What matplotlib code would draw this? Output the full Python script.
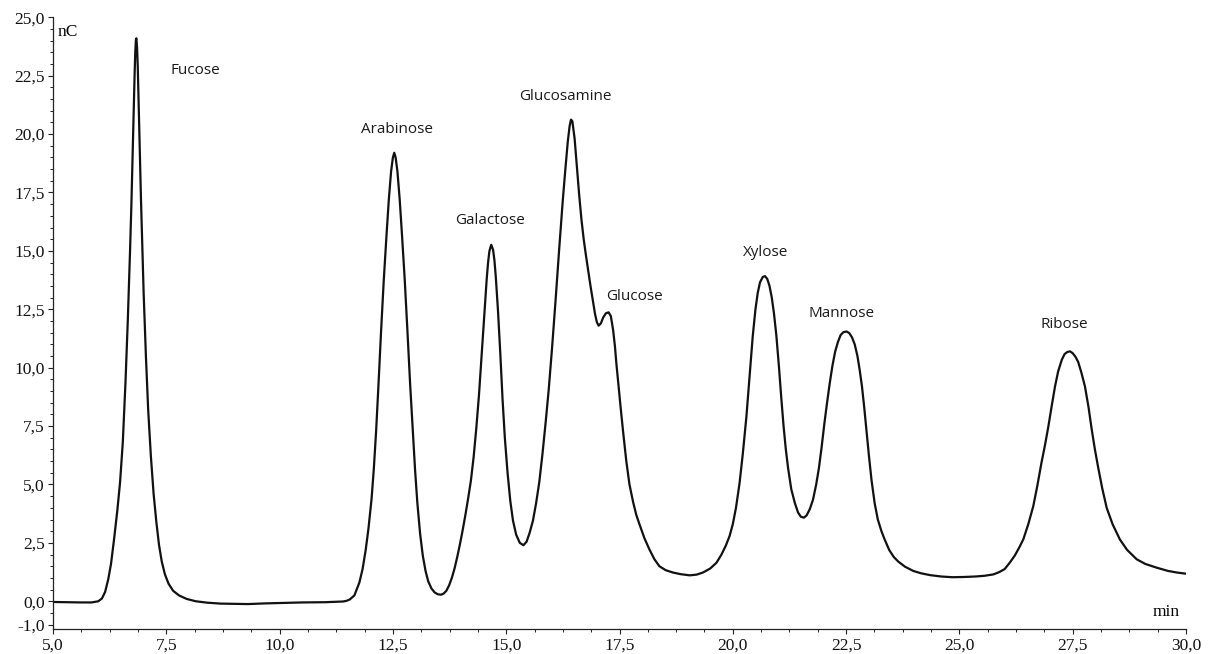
import matplotlib
matplotlib.use("Agg")
import matplotlib.pyplot as plt
from matplotlib.ticker import MultipleLocator, FuncFormatter

plt.rcParams["font.family"] = ["Liberation Serif", "DejaVu Serif"]

# Retention time (min) and detector signal (nC)
time_min = [
    5.00, 5.30, 5.60, 5.85, 6.00, 6.08, 6.15, 6.22, 6.28, 6.35,
    6.42, 6.48, 6.54, 6.60, 6.65, 6.70, 6.73, 6.76, 6.78, 6.80,
    6.815, 6.83, 6.84, 6.855, 6.87, 6.89, 6.91, 6.94, 6.97, 7.00,
    7.05, 7.10, 7.16, 7.22, 7.28, 7.34, 7.40, 7.47, 7.55, 7.65,
    7.78, 7.95, 8.15, 8.40, 8.70, 9.00, 9.30, 9.70, 10.10, 10.50,
    11.00, 11.40, 11.48, 11.55, 11.65, 11.76, 11.83, 11.90, 11.96, 12.03,
    12.08, 12.13, 12.18, 12.24, 12.30, 12.36, 12.41, 12.46, 12.50, 12.53,
    12.56, 12.60, 12.65, 12.70, 12.76, 12.82, 12.88, 12.94, 12.99, 13.04,
    13.10, 13.16, 13.22, 13.28, 13.35, 13.42, 13.49, 13.56, 13.62, 13.68,
    13.74, 13.80, 13.86, 13.92, 13.98, 14.04, 14.10, 14.16, 14.22, 14.28,
    14.34, 14.40, 14.46, 14.52, 14.57, 14.60, 14.63, 14.67, 14.71, 14.74,
    14.77, 14.82, 14.87, 14.92, 14.97, 15.03, 15.09, 15.15, 15.22, 15.30,
    15.38, 15.45, 15.52, 15.59, 15.66, 15.73, 15.80, 15.87, 15.94, 16.01,
    16.09, 16.17, 16.25, 16.31, 16.36, 16.40, 16.43, 16.46, 16.51, 16.56,
    16.61, 16.66, 16.71, 16.76, 16.81, 16.86, 16.91, 16.96, 17.00, 17.04,
    17.09, 17.14, 17.20, 17.26, 17.31, 17.36, 17.40, 17.43, 17.48, 17.53,
    17.58, 17.65, 17.72, 17.80, 17.87, 17.94, 18.05, 18.16, 18.27, 18.38,
    18.52, 18.68, 18.85, 19.05, 19.20, 19.34, 19.50, 19.64, 19.75, 19.85,
    19.93, 20.00, 20.07, 20.15, 20.22, 20.30, 20.37, 20.44, 20.50, 20.55,
    20.60, 20.66, 20.71, 20.76, 20.81, 20.86, 20.91, 20.96, 21.02, 21.07,
    21.12, 21.17, 21.22, 21.29, 21.37, 21.44, 21.50, 21.57, 21.63, 21.70,
    21.77, 21.84, 21.90, 21.96, 22.02, 22.08, 22.14, 22.20, 22.26, 22.32,
    22.38, 22.44, 22.51, 22.57, 22.63, 22.69, 22.75, 22.80, 22.85, 22.90,
    22.95, 23.00, 23.06, 23.13, 23.20, 23.28, 23.35, 23.45, 23.55, 23.65,
    23.80, 23.98, 24.15, 24.35, 24.60, 24.85, 25.10, 25.35, 25.55, 25.75,
    25.88, 26.00, 26.11, 26.22, 26.32, 26.41, 26.52, 26.63, 26.72, 26.81,
    26.89, 26.96, 27.04, 27.11, 27.18, 27.26, 27.32, 27.38, 27.44, 27.50,
    27.56, 27.62, 27.69, 27.77, 27.85, 27.92, 27.99, 28.06, 28.15, 28.25,
    28.38, 28.54, 28.70, 28.91, 29.10, 29.35, 29.60, 29.80, 30.00,
]
signal_nc = [
    -0.03, -0.04, -0.05, -0.05, 0.00, 0.12, 0.40, 0.95, 1.60, 2.70,
    3.90, 5.10, 6.80, 9.40, 12.00, 15.00, 17.00, 19.40, 21.00, 22.50,
    23.50, 24.05, 24.10, 23.70, 22.90, 21.30, 19.60, 17.30, 15.20, 13.20,
    10.50, 8.20, 6.20, 4.60, 3.40, 2.40, 1.70, 1.15, 0.75, 0.45,
    0.25, 0.10, 0.00, -0.06, -0.10, -0.11, -0.12, -0.09, -0.07, -0.05,
    -0.04, -0.01, 0.02, 0.08, 0.25, 0.80, 1.37, 2.20, 3.10, 4.40,
    5.70, 7.30, 9.20, 11.60, 13.80, 15.70, 17.20, 18.40, 19.00, 19.20,
    19.00, 18.40, 17.20, 15.70, 13.80, 11.60, 9.30, 7.30, 5.60, 4.20,
    2.90, 1.95, 1.30, 0.85, 0.55, 0.38, 0.30, 0.28, 0.33, 0.45,
    0.68, 1.00, 1.40, 1.90, 2.45, 3.05, 3.70, 4.40, 5.15, 6.15,
    7.40, 8.85, 10.60, 12.40, 13.80, 14.50, 15.00, 15.26, 15.05, 14.60,
    13.90, 12.40, 10.60, 8.63, 7.00, 5.50, 4.30, 3.45, 2.85, 2.50,
    2.40, 2.55, 2.95, 3.45, 4.20, 5.10, 6.30, 7.65, 9.10, 10.80,
    12.90, 15.10, 17.20, 18.60, 19.70, 20.35, 20.62, 20.55, 19.80, 18.60,
    17.40, 16.35, 15.50, 14.80, 14.15, 13.50, 12.90, 12.30, 11.95, 11.80,
    11.90, 12.15, 12.33, 12.37, 12.20, 11.60, 10.90, 10.20, 9.20, 8.20,
    7.25, 6.00, 5.00, 4.25, 3.70, 3.30, 2.70, 2.22, 1.80, 1.50,
    1.33, 1.23, 1.16, 1.11, 1.14, 1.23, 1.40, 1.65, 2.00, 2.40,
    2.80, 3.30, 4.00, 5.07, 6.30, 7.90, 9.60, 11.35, 12.50, 13.20,
    13.65, 13.88, 13.92, 13.80, 13.50, 13.00, 12.30, 11.40, 10.00, 8.70,
    7.50, 6.50, 5.70, 4.80, 4.20, 3.80, 3.62, 3.58, 3.68, 3.95,
    4.35, 5.00, 5.70, 6.60, 7.60, 8.50, 9.35, 10.10, 10.70, 11.10,
    11.40, 11.52, 11.55, 11.48, 11.30, 11.00, 10.50, 9.90, 9.20, 8.30,
    7.30, 6.30, 5.20, 4.20, 3.50, 3.00, 2.65, 2.20, 1.90, 1.70,
    1.48, 1.30, 1.20, 1.12, 1.06, 1.03, 1.04, 1.06, 1.09, 1.15,
    1.25, 1.38, 1.65, 1.95, 2.30, 2.65, 3.30, 4.07, 4.95, 5.92,
    6.70, 7.45, 8.40, 9.20, 9.85, 10.34, 10.58, 10.67, 10.70, 10.62,
    10.47, 10.25, 9.80, 9.20, 8.30, 7.35, 6.50, 5.75, 4.85, 4.00,
    3.30, 2.65, 2.20, 1.80, 1.60, 1.44, 1.30, 1.23, 1.18,
]

# Sugar names and where their labels sit (min, nC)
peak_names = ["Fucose", "Arabinose", "Galactose", "Glucosamine",
              "Glucose", "Xylose", "Mannose", "Ribose"]
label_t = [8.14, 12.58, 14.65, 16.31, 17.83, 20.73, 22.40, 27.31]
label_v = [22.74, 20.18, 16.28, 21.59, 13.03, 14.95, 12.34, 11.83]

fig = plt.figure(figsize=(12.12, 6.54), dpi=100)
ax = fig.add_axes([53 / 1212, 24.7 / 654, 1133 / 1212, 612 / 654])

ax.plot(time_min, signal_nc, color="#111111", lw=1.6,
        solid_joinstyle="round", solid_capstyle="round")

for name, t, v in zip(peak_names, label_t, label_v):
    ax.text(t, v, name, family="Open Sans", fontsize=11, color="#1a1a1a",
            ha="center", va="center")

ax.set_xlim(5, 30)
ax.set_ylim(-1.2, 25)

ax.xaxis.set_major_locator(MultipleLocator(2.5))
ax.xaxis.set_minor_locator(MultipleLocator(0.625))
ax.set_yticks([-1.0, 0.0, 2.5, 5.0, 7.5, 10.0, 12.5, 15.0, 17.5, 20.0, 22.5, 25.0])
ax.yaxis.set_minor_locator(MultipleLocator(0.5))

comma = FuncFormatter(lambda x, pos: f"{x:.1f}".replace(".", ","))
ax.xaxis.set_major_formatter(comma)
ax.yaxis.set_major_formatter(comma)

for s in ["top", "right"]:
    ax.spines[s].set_visible(False)
for s in ["left", "bottom"]:
    ax.spines[s].set_linewidth(0.9)
    ax.spines[s].set_color("#222222")

ax.tick_params(which="major", direction="out", length=3.5, width=0.8,
               color="#222222", labelsize=12.5, labelcolor="#111111", pad=2.5)
ax.tick_params(which="minor", direction="out", length=2, width=0.7,
               color="#222222")

ax.text(5.11, 24.35, "nC", fontsize=12.5, ha="left", va="center")
ax.text(29.87, -0.45, "min", fontsize=12.5, ha="right", va="center")

fig.savefig("out.png", dpi=100)
